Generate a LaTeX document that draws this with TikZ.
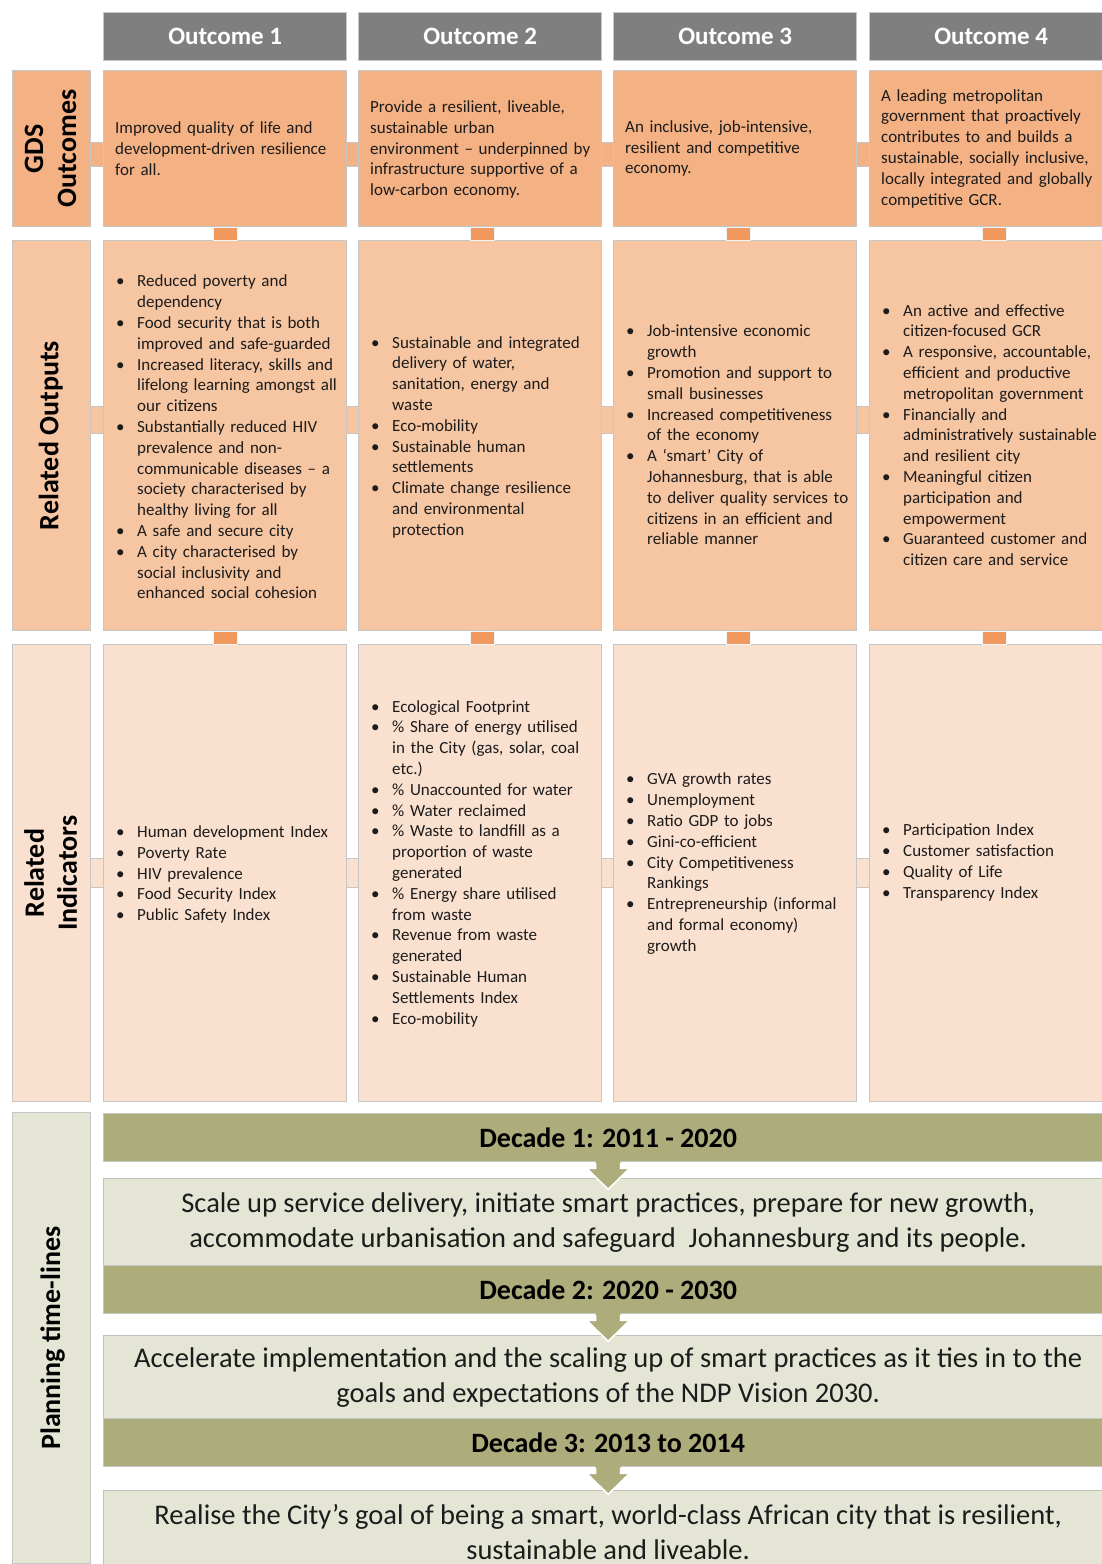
\documentclass[tikz,border=0pt]{standalone}
\usepackage{fontspec}
\setmainfont{Carlito}
\usetikzlibrary{calc}

\definecolor{hdrgray}{HTML}{7F7F7F}
\definecolor{rowA}{HTML}{F4B183}
\definecolor{rowB}{HTML}{F6C5A1}
\definecolor{rowC}{HTML}{FAE0CF}
\definecolor{linkorange}{HTML}{F0985E}
\definecolor{olivebar}{HTML}{ADAD7B}
\definecolor{paleolive}{HTML}{E5E5D6}
\definecolor{edgegray}{HTML}{C6C6C6}
\definecolor{inkcol}{HTML}{1C1C1C}

% one bulleted entry with a hanging indent; \newline breaks lines inside it
\newcommand\bulletline[1]{\par\noindent\hangindent=21pt\hangafter=1\makebox[21pt][l]{\textbullet}#1\par}

\tikzset{
  panel/.style={draw=edgegray, line width=1.3pt, inner sep=0pt, anchor=north west},
  hdr/.style={panel, fill=hdrgray, minimum width=243pt, minimum height=48pt,
    text=white, font=\fontsize{25}{29}\selectfont\bfseries},
  cell/.style={panel, minimum width=243pt},
  sidecell/.style={panel, minimum width=78pt},
  sidelabel/.style={rotate=90, align=center, inner sep=0pt, text=black,
    font=\fontsize{28}{33}\selectfont\bfseries},
  bodytxt/.style={anchor=west, inner sep=0pt, text width=240pt, align=left,
    text=inkcol, font=\fontsize{17}{20.8}\selectfont},
  decade/.style={panel, fill=olivebar, minimum width=1009pt, minimum height=48pt,
    text=black, font=\fontsize{28}{32}\selectfont\bfseries},
  stage/.style={panel, fill=paleolive, draw=edgegray!80!olivebar, minimum width=1009pt,
    align=center, text=inkcol, font=\fontsize{28.5}{35}\selectfont},
  downarrow/.style={fill=olivebar},
  downedge/.style={draw=white, line width=1.6pt, line join=miter},
}

\begin{document}
\begin{tikzpicture}[x=1pt,y=-1pt]
\useasboundingbox (0,0) rectangle (1101,1564);

% ---------- column headers ----------
\node[hdr] (h1) at (103,12) {Outcome 1};
\node[hdr] (h2) at (358,12) {Outcome 2};
\node[hdr] (h3) at (613,12) {Outcome 3};
\node[hdr] (h4) at (869,12) {Outcome 4};

% ---------- row label cells ----------
\node[sidecell, fill=rowA, minimum height=156pt] (lab1) at (12,70) {};
\node[sidecell, fill=rowB, minimum height=390pt] (lab2) at (12,240) {};
\node[sidecell, fill=rowC, minimum height=457pt] (lab3) at (12,644) {};

% ---------- grid cells ----------
\foreach \c/\x in {1/103, 2/358, 3/613, 4/869} {
  \node[cell, fill=rowA, minimum height=156pt] (b1\c) at (\x,70) {};
  \node[cell, fill=rowB, minimum height=390pt] (b2\c) at (\x,240) {};
  \node[cell, fill=rowC, minimum height=457pt] (b3\c) at (\x,644) {};
}

% ---------- horizontal links between cells of a row ----------
\foreach \r/\ya/\yb/\col in {1/142/166/rowA, 2/406/433/rowB, 3/858/887/rowC} {
  \foreach \L/\R in {lab\r/b\r1, b\r1/b\r2, b\r2/b\r3, b\r3/b\r4} {
    \fill[\col] (\L.east |- 0,\ya) rectangle (\R.west |- 0,\yb);
    \draw[edgegray, line width=1pt] (\L.east |- 0,\ya) -- (\R.west |- 0,\ya)
      (\L.east |- 0,\yb) -- (\R.west |- 0,\yb);
  }
}

% ---------- vertical links between rows ----------
\foreach \c/\dx in {1/0, 2/2, 3/3, 4/3} {
  \filldraw[fill=linkorange, draw=white!80!edgegray, line width=0.8pt]
    ([xshift=\dx pt-12pt]b1\c.south) rectangle ([xshift=\dx pt+12pt]b2\c.north);
  \filldraw[fill=linkorange, draw=white!80!edgegray, line width=0.8pt]
    ([xshift=\dx pt-12pt]b2\c.south) rectangle ([xshift=\dx pt+12pt]b3\c.north);
}

% ---------- row labels ----------
\node[sidelabel] (lt1) at ([xshift=-1pt]lab1.center) {GDS\\Outcomes};
\node[sidelabel] (lt2) at ([xshift=-1pt]lab2.center) {Related Outputs};
\node[sidelabel] (lt3) at ([xshift=-1pt]lab3.center) {Related\\Indicators};

% ---------- GDS outcomes ----------
\node[bodytxt] (t11) at ($(b11.west)+(12,0)$) {Improved quality of life and\newline development-driven resilience\newline for all.};
\node[bodytxt] (t12) at ($(b12.west)+(12,1)$) {Provide a resilient, liveable,\newline sustainable urban\newline environment -- underpinned by\newline infrastructure supportive of a\newline low-carbon economy.};
\node[bodytxt] (t13) at ($(b13.west)+(12,0)$) {An inclusive, job-intensive,\newline resilient and competitive\newline economy.};
\node[bodytxt] (t14) at ($(b14.west)+(12,0)$) {A leading metropolitan\newline government that proactively\newline contributes to and builds a\newline sustainable, socially inclusive,\newline locally integrated and globally\newline competitive GCR.};

% ---------- related outputs ----------
\node[bodytxt] (t21) at ($(b21.west)+(13,-3)$) {%
\bulletline{Reduced poverty and\newline dependency}
\bulletline{Food security that is both\newline improved and safe-guarded}
\bulletline{Increased literacy, skills and\newline lifelong learning amongst all\newline our citizens}
\bulletline{Substantially reduced HIV\newline prevalence and non-\newline communicable diseases -- a\newline society characterised by\newline healthy living for all}
\bulletline{A safe and secure city}
\bulletline{A city characterised by\newline social inclusivity and\newline enhanced social cohesion}};
\node[bodytxt] (t22) at ($(b22.west)+(13,-3)$) {%
\bulletline{Sustainable and integrated\newline delivery of water,\newline sanitation, energy and\newline waste}
\bulletline{Eco-mobility}
\bulletline{Sustainable human\newline settlements}
\bulletline{Climate change resilience\newline and environmental\newline protection}};
\node[bodytxt] (t23) at ($(b23.west)+(13,-5)$) {%
\bulletline{Job-intensive economic\newline growth}
\bulletline{Promotion and support to\newline small businesses}
\bulletline{Increased competitiveness\newline of the economy}
\bulletline{A ‘smart’ City of\newline Johannesburg, that is able\newline to deliver quality services to\newline citizens in an efficient and\newline reliable manner}};
\node[bodytxt] (t24) at ($(b24.west)+(13,-5)$) {%
\bulletline{An active and effective\newline citizen-focused GCR}
\bulletline{A responsive, accountable,\newline efficient and productive\newline metropolitan government}
\bulletline{Financially and\newline administratively sustainable\newline and resilient city}
\bulletline{Meaningful citizen\newline participation and\newline empowerment}
\bulletline{Guaranteed customer and\newline citizen care and service}};

% ---------- related indicators ----------
\node[bodytxt] (t31) at ($(b31.west)+(13,-3)$) {%
\bulletline{Human development Index}
\bulletline{Poverty Rate}
\bulletline{HIV prevalence}
\bulletline{Food Security Index}
\bulletline{Public Safety Index}};
\node[bodytxt] (t32) at ($(b32.west)+(13,-14)$) {%
\bulletline{Ecological Footprint}
\bulletline{\% Share of energy utilised\newline in the City (gas, solar, coal\newline etc.)}
\bulletline{\% Unaccounted for water}
\bulletline{\% Water reclaimed}
\bulletline{\% Waste to landfill as a\newline proportion of waste\newline generated}
\bulletline{\% Energy share utilised\newline from waste}
\bulletline{Revenue from waste\newline generated}
\bulletline{Sustainable Human\newline Settlements Index}
\bulletline{Eco-mobility}};
\node[bodytxt] (t33) at ($(b33.west)+(13,-14)$) {%
\bulletline{GVA growth rates}
\bulletline{Unemployment}
\bulletline{Ratio GDP to jobs}
\bulletline{Gini-co-efficient}
\bulletline{City Competitiveness\newline Rankings}
\bulletline{Entrepreneurship (informal\newline and formal economy)\newline growth}};
\node[bodytxt] (t34) at ($(b34.west)+(13,-15)$) {%
\bulletline{Participation Index}
\bulletline{Customer satisfaction}
\bulletline{Quality of Life}
\bulletline{Transparency Index}};

% ---------- planning time-lines ----------
\node[sidecell, fill=paleolive, minimum height=451pt] (lab4) at (12,1112) {};
\node[sidelabel] (lt4) at ([xshift=1pt]lab4.center) {Planning time-lines};

\node[decade] (d1) at (103,1113) {Decade 1: 2011 - 2020};
\node[stage, minimum height=87pt] (s1) at (103,1178)
  {Scale up service delivery, initiate smart practices, prepare for new growth,\\
   accommodate urbanisation and safeguard\ \ Johannesburg and its people.};
\node[decade] (d2) at (103,1265) {Decade 2: 2020 - 2030};
\node[stage, minimum height=83pt] (s2) at (103,1335)
  {Accelerate implementation and the scaling up of smart practices as it ties in to the\\
   goals and expectations of the NDP Vision 2030.};
\node[decade] (d3) at (103,1418) {Decade 3: 2013 to 2014};
\node[stage, minimum height=83pt] (s3) at (103,1490)
  {Realise the City’s goal of being a smart, world-class African city that is resilient,\\
   sustainable and liveable.};

% down arrows leading from each decade bar into its stage box
\foreach \d in {d1,d2,d3} {
  \fill[downarrow] ($(\d.south)+(-12.5,-3)$) -- ($(\d.south)+(12.5,-3)$)
    -- ($(\d.south)+(12.5,6)$) -- ($(\d.south)+(21.5,6)$) -- ($(\d.south)+(0,27)$)
    -- ($(\d.south)+(-21.5,6)$) -- ($(\d.south)+(-12.5,6)$) -- cycle;
  \draw[downedge] ($(\d.south)+(12.5,0.7)$) -- ($(\d.south)+(12.5,6)$)
    -- ($(\d.south)+(21.5,6)$) -- ($(\d.south)+(0,27)$)
    -- ($(\d.south)+(-21.5,6)$) -- ($(\d.south)+(-12.5,6)$) -- ($(\d.south)+(-12.5,0.7)$);
}
\end{tikzpicture}
\end{document}
